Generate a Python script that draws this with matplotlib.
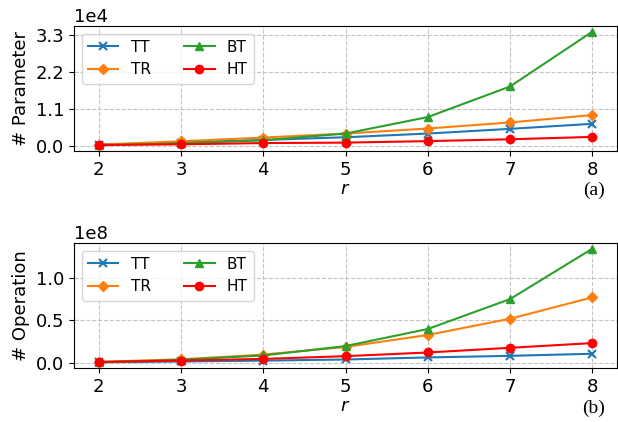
import matplotlib
matplotlib.use("Agg")
import matplotlib.pyplot as plt

r = [2, 3, 4, 5, 6, 7, 8]

# parameters (x1e4)
param_tt = [0.04, 0.10, 0.18, 0.26, 0.37, 0.51, 0.66]
param_tr = [0.04, 0.14, 0.25, 0.37, 0.52, 0.70, 0.92]
param_bt = [0.02, 0.08, 0.17, 0.37, 0.86, 1.77, 3.40]
param_ht = [0.03, 0.05, 0.087, 0.10, 0.145, 0.20, 0.27]

# operations (x1e8)
op_tt = [0.01, 0.02, 0.03, 0.043, 0.067, 0.086, 0.11]
op_tr = [0.015, 0.045, 0.10, 0.19, 0.33, 0.52, 0.77]
op_bt = [0.01, 0.04, 0.09, 0.20, 0.40, 0.75, 1.34]
op_ht = [0.015, 0.03, 0.05, 0.082, 0.125, 0.18, 0.235]

labels = ["TT", "TR", "BT", "HT"]
colors = ["tab:blue", "tab:orange", "tab:green", "red"]
markers = ["x", "D", "^", "o"]

plt.rcParams["font.size"] = 13

fig = plt.figure(figsize=(6.18, 4.22), dpi=100)
ax1 = fig.add_axes([74 / 618, 1 - 151 / 422, 543 / 618, 125 / 422])
ax2 = fig.add_axes([74 / 618, 1 - 368 / 422, 543 / 618, 125 / 422])


def draw(ax, series, scale, ylabel, yticks):
    for vals, lab, c, m in zip(series, labels, colors, markers):
        ax.plot(r, [v * scale for v in vals], color=c, marker=m, label=lab,
                markersize=5 if m == "D" else 6, linewidth=1.5,
                markeredgewidth=1.5 if m == "x" else 1.0)
    ax.set_xticks(r)
    ax.set_yticks([t * scale for t in yticks])
    ax.set_ylabel(ylabel)
    ax.set_xlabel("$r$", labelpad=1)
    ax.grid(True, linestyle="--", color="#c4c4c4", linewidth=0.8)
    ax.legend(loc="upper left", ncol=2, fontsize=11, handlelength=2.0,
              columnspacing=2.2, borderaxespad=0.5)
    ax.ticklabel_format(axis="y", style="sci", scilimits=(0, 0))


draw(ax1, [param_tt, param_tr, param_bt, param_ht], 1e4, "# Parameter",
     [0, 1.1, 2.2, 3.3])
draw(ax2, [op_tt, op_tr, op_bt, op_ht], 1e8, "# Operation", [0, 0.5, 1.0])

fig.text(594 / 618, 1 - 190 / 422, "(a)", family="Liberation Serif",
         fontsize=14, ha="center", va="center")
fig.text(594 / 618, 1 - 408 / 422, "(b)", family="Liberation Serif",
         fontsize=14, ha="center", va="center")

fig.savefig("out.png", dpi=100)
